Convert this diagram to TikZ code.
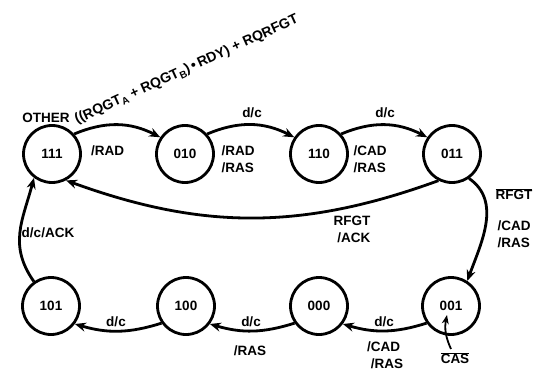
\documentclass[tikz,border=0pt]{standalone}
\usepackage{fontspec}
\setmainfont{Liberation Sans}
\usetikzlibrary{arrows.meta}
\newcommand{\lowidx}[1]{\raisebox{-0.4ex}{\fontsize{10}{10}\selectfont #1}}
\begin{document}
\begin{tikzpicture}[x=1pt,y=1pt,
  every node/.style={font=\fontsize{13.5}{17}\selectfont\bfseries},
  state/.style={draw,circle,line width=2.8pt,minimum size=57pt,inner sep=0pt},
  trans/.style={line width=2.8pt,-{Stealth[length=11pt,width=9pt]}},
  lbl/.style={inner sep=0pt,align=left}]
\useasboundingbox (0,0) rectangle (535,-377);
\node[state] (s111) at (52,-154) {111};
\node[state] (s010) at (185,-154) {010};
\node[state] (s110) at (319,-154) {110};
\node[state] (s011) at (452,-154) {011};
\node[state] (s101) at (51,-306) {101};
\node[state] (s100) at (186,-306) {100};
\node[state] (s000) at (319,-306) {000};
\node[state] (s001) at (451,-306) {001};

\draw[trans] (s111.42) to[bend left=25] (s010.146);
\draw[trans] (s010.42) to[bend left=25] (s110.146);
\draw[trans] (s110.42) to[bend left=25] (s011.146);
\draw[trans] (s011.243) to[out=200,in=-20] (s111.-62);
\draw[trans] (s011.-55) to[out=-35,in=70] (s001.57);
\draw[trans] (s001.215) to[bend left=17] (s000.-37);
\draw[trans] (s000.215) to[bend left=17] (s100.-37);
\draw[trans] (s100.215) to[bend left=17] (s101.-37);
\draw[trans] (s101.125) to[out=125,in=-105,looseness=1.1] (s111.233);

\node[lbl] (other) at (46,-118) {OTHER};
\node[lbl,anchor=base west,rotate=24.6,font=\fontsize{14}{17}\selectfont\bfseries] (cond) at (77,-124)
  {((RQGT\lowidx{A} + RQGT\lowidx{B})\,•\,RDY) + RQRFGT};
\node[lbl] (dc1) at (252,-113) {d/c};
\node[lbl] (dc2) at (385,-113) {d/c};
\node[lbl,anchor=west] (rad) at (91,-151) {/RAD};
\node[lbl] (radras) at (238,-159) {/RAD\\/RAS};
\node[lbl] (cadras1) at (370,-159) {/CAD\\/RAS};
\node[lbl] (nrfgt) at (514,-194) {$\overline{\hbox{RFGT}}$};
\node[lbl] (cadras2) at (514,-234) {/CAD\\/RAS};
\node[lbl] (dcack) at (48,-233) {d/c/ACK};
\node[lbl,align=center] (rfgtack) at (352,-229) {RFGT\\\ /ACK};
\node[lbl] (dc3) at (116,-322) {d/c};
\node[lbl] (dc4) at (251,-322) {d/c};
\node[lbl] (dc5) at (384,-322) {d/c};
\node[lbl] (ras) at (250,-351) {/RAS};
\node[lbl] (cadras3) at (385,-355) {/CAD\\\ /RAS};
\node[lbl] (cas) at (455,-358) {$\overline{\hbox{CAS}}$};
\coordinate (castip) at (447,-315);
\draw[line width=1.8pt,-{Stealth[length=9pt,width=7pt]}] ([xshift=-4pt,yshift=3pt]cas.north) to[bend left=18] (castip);
\end{tikzpicture}
\end{document}
